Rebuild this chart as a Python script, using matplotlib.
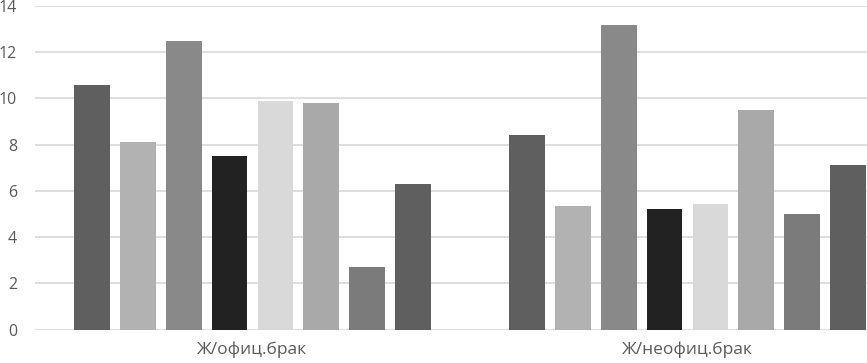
import numpy as np
import matplotlib.pyplot as plt

# Data
categories = ['Ж/офиц.брак', 'Ж/неофиц.брак']
series_values = [
    [10.6, 8.43],
    [8.1, 5.35],
    [12.5, 13.17],
    [7.5, 5.21],
    [9.9, 5.44],
    [9.8, 9.5],
    [2.7, 5.0],
    [6.3, 7.14],
]
bar_colors = ['#5f5f5f', '#b2b2b2', '#898989', '#222222',
              '#d9d9d9', '#a9a9a9', '#7b7b7b', '#5f5f5f']
y_ticks = [0, 2, 4, 6, 8, 10, 12, 14]

plt.rcParams['font.family'] = ['Open Sans', 'DejaVu Sans']

fig = plt.figure(figsize=(8.67, 3.63), dpi=100)
# axes run past the right edge, as the reference is cropped there
ax = fig.add_axes([35 / 867, 1 - 329.5 / 363, 870 / 867, 323.5 / 363])

x = np.arange(len(categories))
slot = 0.1053
width = 0.0816
n = len(series_values)
for i, vals in enumerate(series_values):
    offs = (i - (n - 1) / 2) * slot
    ax.bar(x + offs, vals, width=width, color=bar_colors[i], zorder=3)

ax.set_xlim(-0.5, 1.5)
ax.set_ylim(0, 14)
ax.set_yticks(y_ticks)
ax.set_xticks(x)
ax.set_xticklabels(categories)
ax.grid(axis='y', color='#d9d9d9', linewidth=1.2, zorder=0)
for s in ax.spines.values():
    s.set_visible(False)
ax.tick_params(axis='both', length=0, colors='#595959')
ax.tick_params(axis='y', pad=13, labelsize=11.5)
ax.tick_params(axis='x', pad=9, labelsize=12.5)

fig.savefig('out.png', dpi=100)
